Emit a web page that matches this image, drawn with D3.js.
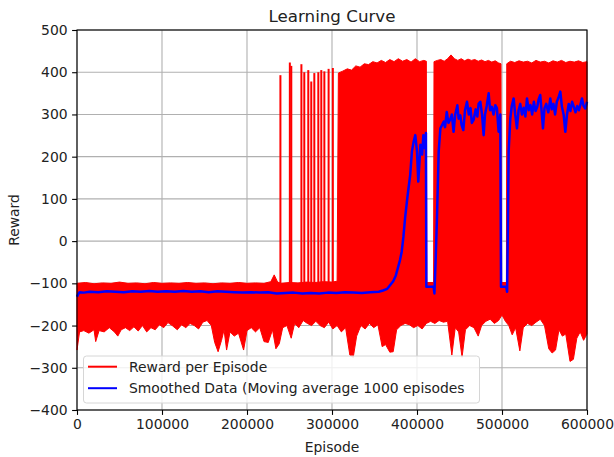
<!DOCTYPE html>
<html>
<head>
<meta charset="utf-8">
<script src="https://cdn.jsdelivr.net/npm/d3@7"></script>
<style>
  body { margin: 0; background: #fff; }
  svg { display: block; font-family: "DejaVu Sans", sans-serif; }
</style>
</head>
<body>
<div id="chart"><svg width="614" height="457"></svg></div>
<script>
// x ticks / y ticks
const xTicks = [0, 100000, 200000, 300000, 400000, 500000, 600000];
const yTicks = [-400, -300, -200, -100, 0, 100, 200, 300, 400, 500];

// Reward per Episode: upper edge of the noisy band (episode, reward)
const rewardUpper = [
  [0, -100], [10000, -98], [20000, -101], [30000, -99], [40000, -100], [50000, -97],
  [60000, -100], [70000, -99], [80000, -101], [90000, -98], [100000, -100], [110000, -99],
  [120000, -100], [130000, -98], [140000, -100], [150000, -99], [160000, -101], [170000, -99],
  [180000, -100], [190000, -98], [200000, -100], [210000, -99], [220000, -100], [228000, -96],
  [232000, -80], [236000, -97], [240000, -100], [250000, -98], [260000, -99], [270000, -97],
  [280000, -98], [290000, -96], [300000, -97], [306000, -95],
  [307500, 398], [312000, 402], [318000, 408], [323000, 405], [328000, 415], [333000, 412],
  [338000, 420], [343000, 418], [348000, 425], [353000, 422], [358000, 428], [363000, 423],
  [368000, 430], [373000, 425], [378000, 432], [383000, 426], [388000, 430], [393000, 424],
  [398000, 432], [403000, 425], [408000, 428], [411000, 426],
  [411500, -98], [419500, -98],
  [420000, 425], [424000, 428], [428000, 430], [432000, 426], [436000, 432], [440000, 441],
  [444000, 432], [448000, 428], [452000, 432], [456000, 427], [460000, 431], [464000, 428],
  [468000, 430], [472000, 426], [476000, 429], [480000, 425], [484000, 428], [488000, 424],
  [492000, 427], [496000, 422], [498800, 420],
  [499200, -98], [505200, -98],
  [505600, 420], [510000, 426], [515000, 423], [520000, 427], [525000, 424], [530000, 426],
  [535000, 422], [540000, 428], [545000, 424], [550000, 426], [555000, 422], [560000, 427],
  [565000, 424], [570000, 428], [575000, 423], [580000, 426], [585000, 424], [590000, 427],
  [595000, 423], [600000, 425]
];

// Reward per Episode: lower edge of the band
const rewardLower = [
  [0, -258], [3000, -215], [8000, -212], [14000, -218], [20000, -210], [22000, -238], [26000, -212],
  [32000, -215], [38000, -205], [44000, -215], [48000, -225], [52000, -210], [57000, -205],
  [62000, -212], [67000, -203], [72000, -213], [77000, -200], [82000, -215], [87000, -205],
  [92000, -210], [97000, -198], [102000, -205], [107000, -193], [112000, -200], [118000, -210],
  [123000, -198], [128000, -205], [133000, -195], [138000, -200], [143000, -208], [148000, -192],
  [153000, -188], [158000, -200], [162000, -240], [166000, -262], [170000, -235], [173000, -210],
  [176000, -258], [180000, -215], [185000, -225], [190000, -218], [196000, -258], [200000, -212],
  [205000, -205], [210000, -215], [215000, -205], [220000, -238], [225000, -240], [230000, -210],
  [234000, -255], [238000, -243], [242000, -205], [247000, -200], [252000, -230], [256000, -195],
  [261000, -205], [266000, -188], [271000, -195], [276000, -200], [281000, -190], [286000, -200],
  [291000, -205], [296000, -192], [301000, -208], [306000, -200], [311000, -215], [316000, -205],
  [321000, -270], [325000, -275], [329000, -225], [334000, -200], [339000, -208], [344000, -195],
  [349000, -205], [354000, -198], [359000, -250], [363000, -245], [368000, -263], [372000, -262],
  [376000, -210], [381000, -200], [386000, -195], [391000, -198], [396000, -205], [401000, -200],
  [406000, -208], [411000, -195], [416000, -190], [421000, -195], [426000, -188], [431000, -192],
  [436000, -190], [441000, -270], [445000, -205], [449000, -215], [453000, -275], [457000, -210],
  [462000, -200], [467000, -205], [472000, -225], [476000, -200], [481000, -190], [486000, -185],
  [491000, -195], [496000, -188], [500000, -175], [504000, -190], [508000, -200], [512000, -222],
  [516000, -205], [521000, -260], [525000, -205], [530000, -195], [535000, -200], [540000, -192],
  [545000, -185], [550000, -200], [555000, -255], [559000, -265], [563000, -258], [567000, -210],
  [571000, -225], [575000, -220], [580000, -285], [584000, -280], [588000, -230], [592000, -215],
  [596000, -235], [600000, -220]
];

// isolated high episodes before the band fills in (episode, reward)
const rewardSpikes = [
  [239300, 393], [250400, 423], [252100, 415], [264000, 419], [267400, 400], [272100, 405],
  [275600, 378], [279200, 398], [283900, 400], [287400, 405], [291000, 402], [296000, 408],
  [301000, 410]
];

// Smoothed Data (moving average 1000 episodes)
const smoothed = [
  [0, -132], [1500, -125], [3000, -121], [8000, -122], [15000, -120], [25000, -121], [35000, -119],
  [45000, -120], [55000, -121], [65000, -119], [75000, -120], [85000, -118], [95000, -120],
  [105000, -119], [115000, -120], [125000, -118], [135000, -120], [145000, -119], [155000, -121],
  [165000, -119], [175000, -120], [185000, -121], [195000, -122], [205000, -121], [215000, -122],
  [225000, -121], [235000, -124], [245000, -123], [255000, -122], [265000, -124], [275000, -123],
  [285000, -124], [295000, -122], [305000, -123], [315000, -121], [325000, -122], [335000, -123],
  [345000, -121], [355000, -120], [360000, -117], [365000, -113], [368500, -104], [372000, -95],
  [375000, -82], [378000, -60], [380000, -45], [382000, -25], [384000, 10], [386000, 55],
  [389000, 109], [392000, 157], [394000, 212], [396000, 235], [398000, 251], [400000, 212],
  [401500, 141], [403000, 190], [404000, 228], [406000, 205], [407500, 251], [409000, 220],
  [410500, 256], [411000, -108], [419500, -108], [420500, -124], [422000, -40], [423500, 55],
  [425500, 212], [427500, 267], [429500, 275], [431500, 283], [433000, 270], [435000, 306],
  [437000, 280], [439500, 290], [441000, 300], [443000, 259], [445000, 300], [447500, 322],
  [449000, 290], [451000, 298], [452500, 275], [454500, 263], [456500, 310], [458800, 330],
  [461000, 300], [463000, 315], [464500, 280], [466600, 287], [469000, 312], [471000, 295],
  [472500, 325], [474500, 330], [476500, 300], [478400, 251], [480000, 300], [482000, 320],
  [484300, 350], [486000, 310], [488000, 318], [490000, 300], [492100, 322], [494000, 315],
  [496000, 259], [498000, 300], [498800, -108], [505000, -108], [506000, -120], [507000, 50],
  [507800, 212], [509000, 260], [509800, 291], [511500, 320], [513700, 338], [515500, 300],
  [517600, 267], [519500, 310], [521500, 325], [523500, 300], [525500, 316], [527500, 295],
  [529400, 338], [531500, 310], [533500, 322], [535500, 300], [537500, 330], [539500, 308],
  [541500, 318], [543000, 335], [545000, 346], [546500, 310], [548200, 267], [550000, 315],
  [552000, 325], [554500, 305], [556800, 338], [558500, 312], [560500, 325], [562500, 300],
  [564500, 330], [566500, 340], [568600, 354], [570500, 318], [572500, 300], [574500, 259],
  [576500, 300], [578500, 325], [580500, 308], [582500, 330], [584500, 318], [586500, 305],
  [588500, 320], [590500, 310], [592500, 325], [594100, 338], [596000, 320], [598000, 314],
  [600000, 330]
];

const legendLabels = ["Reward per Episode", "Smoothed Data (Moving average 1000 episodes"];
const seriesColors = ["#ff0000", "#0000ff"];

function drawChart() {
    const svg = d3.select("#chart svg");
    const width = +svg.attr("width");
    const height = +svg.attr("height");
    const margin = { top: 30, right: 27, bottom: 47, left: 77 };
    const innerWidth = width - margin.left - margin.right;
    const innerHeight = height - margin.top - margin.bottom;

    svg.append("rect").attr("width", width).attr("height", height).attr("fill", "#fff");

    const g = svg.append("g").attr("transform", `translate(${margin.left},${margin.top})`);

    const xScale = d3.scaleLinear().domain([0, 600000]).range([0, innerWidth]);
    const yScale = d3.scaleLinear().domain([-400, 500]).range([innerHeight, 0]);

    // grid
    g.append("g").selectAll("line").data(xTicks).join("line")
        .attr("x1", d => xScale(d)).attr("x2", d => xScale(d))
        .attr("y1", 0).attr("y2", innerHeight)
        .attr("stroke", "#b0b0b0").attr("stroke-width", 1.1);
    g.append("g").selectAll("line").data(yTicks).join("line")
        .attr("y1", d => yScale(d)).attr("y2", d => yScale(d))
        .attr("x1", 0).attr("x2", innerWidth)
        .attr("stroke", "#b0b0b0").attr("stroke-width", 1.1);

    const line = d3.line().x(d => xScale(d[0])).y(d => yScale(d[1]));

    // red band: upper edge left->right, lower edge right->left
    const band = rewardUpper.concat(rewardLower.slice().reverse());
    g.append("path")
        .attr("d", line(band) + "Z")
        .attr("fill", seriesColors[0])
        .attr("stroke", seriesColors[0])
        .attr("stroke-width", 1);

    g.append("g").selectAll("line").data(rewardSpikes).join("line")
        .attr("x1", d => xScale(d[0])).attr("x2", d => xScale(d[0]))
        .attr("y1", yScale(-100)).attr("y2", d => yScale(d[1]))
        .attr("stroke", seriesColors[0]).attr("stroke-width", 2);

    g.append("path")
        .attr("d", line(smoothed))
        .attr("fill", "none")
        .attr("stroke", seriesColors[1])
        .attr("stroke-width", 2.5)
        .attr("stroke-linejoin", "round");

    // axes
    const xAxis = d3.axisBottom(xScale).tickValues(xTicks).tickFormat(d3.format("d"))
        .tickSize(4.9).tickPadding(4.5);
    const yAxis = d3.axisLeft(yScale).tickValues(yTicks).tickFormat(d3.format("d"))
        .tickSize(4.9).tickPadding(4.5);

    const xAxisGroup = g.append("g").attr("transform", `translate(0,${innerHeight})`).call(xAxis);
    const yAxisGroup = g.append("g").call(yAxis);
    [xAxisGroup, yAxisGroup].forEach(ax => {
        ax.select(".domain").remove();
        ax.selectAll(".tick line").attr("stroke", "#000").attr("stroke-width", 1.1);
        ax.selectAll("text").attr("font-size", 13.9).attr("fill", "#222")
            .attr("font-family", "DejaVu Sans");
    });

    // spines
    g.append("rect").attr("width", innerWidth).attr("height", innerHeight)
        .attr("fill", "none").attr("stroke", "#000").attr("stroke-width", 1.1);

    // titles
    svg.append("text").attr("x", margin.left + innerWidth / 2).attr("y", 21.5)
        .attr("text-anchor", "middle").attr("font-size", 16.7).attr("fill", "#222")
        .text("Learning Curve");
    svg.append("text").attr("x", margin.left + innerWidth / 2).attr("y", 451.5)
        .attr("text-anchor", "middle").attr("font-size", 13.9).attr("fill", "#222")
        .text("Episode");
    svg.append("text").attr("transform", `translate(18.5,${margin.top + innerHeight / 2}) rotate(-90)`)
        .attr("text-anchor", "middle").attr("font-size", 13.9).attr("fill", "#222")
        .text("Reward");

    // legend
    const legend = g.append("g").attr("transform", "translate(6.5,326)");
    legend.append("rect").attr("width", 396).attr("height", 47).attr("rx", 3)
        .attr("fill", "#fff").attr("fill-opacity", 0.8)
        .attr("stroke", "#d6d6d6").attr("stroke-width", 1);
    legendLabels.forEach((label, i) => {
        const y = 10.7 + i * 21.5;
        legend.append("line").attr("x1", 4.5).attr("x2", 33.5).attr("y1", y).attr("y2", y)
            .attr("stroke", seriesColors[i]).attr("stroke-width", 2);
        legend.append("text").attr("x", 45.5).attr("y", y + 4.9)
            .attr("font-size", 13.9).attr("fill", "#222").text(label);
    });
}

drawChart();
</script>
</body>
</html>
